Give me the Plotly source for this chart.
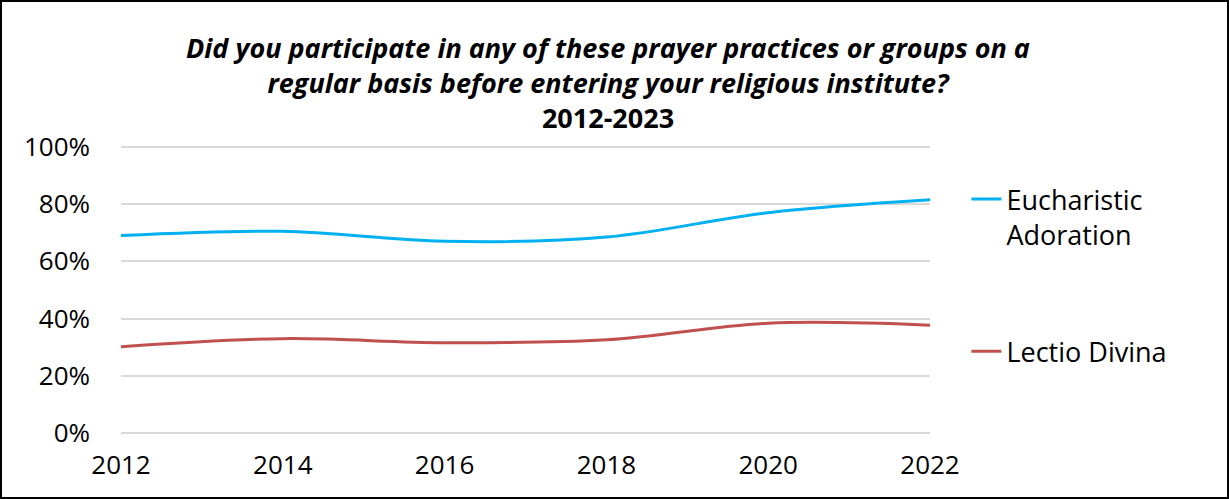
import plotly.graph_objects as go

years = [2012, 2014, 2016, 2018, 2020, 2022]
eucharistic = [0.69, 0.705, 0.67, 0.685, 0.77, 0.815]
lectio = [0.302, 0.33, 0.316, 0.326, 0.384, 0.377]
series_names = ["Eucharistic<br>Adoration", "Lectio Divina"]
colors = ["#00B0F0", "#C0504D"]
y_ticks = [0, 0.2, 0.4, 0.6, 0.8, 1.0]
y_labels = ["0%", "20%", "40%", "60%", "80%", "100%"]

FONT = "Open Sans, sans-serif"
W, H = 1229, 499
YPAD = 0.01
ML = 121
MR = W - 930
MT = 147 - 3
MB = H - 433 - 3

fig = go.Figure()
for i, (name, vals) in enumerate(zip(series_names, [eucharistic, lectio])):
    fig.add_trace(go.Scatter(
        x=years, y=vals, mode="lines", name=name,
        line=dict(color=colors[i], width=3, shape="spline", smoothing=1),
        legendgroup=f"g{i}",
    ))

pw = W - ML - MR
ph = H - MT - MB
fig.add_shape(type="rect", xref="paper", yref="paper",
              x0=-(ML - 1) / pw, x1=1 + (MR - 1) / pw,
              y0=-(MB - 1) / ph, y1=1 + (MT - 1) / ph,
              line=dict(color="black", width=2), fillcolor="rgba(0,0,0,0)", layer="above")

fig.update_layout(
    width=W, height=H,
    margin=dict(l=ML, r=MR, t=MT, b=MB),
    paper_bgcolor="white", plot_bgcolor="white",
    font=dict(family=FONT, size=26, color="black"),
    title=dict(
        text="<b><i>Did you participate in any of these prayer practices or groups on a<br>regular basis before entering your religious institute?</i><br>2012-2023</b>",
        x=0.4947, xanchor="center", xref="container",
        y=1 - 58 / H, yanchor="middle", yref="container",
        font=dict(family=FONT, size=27, color="black"),
    ),
    xaxis=dict(range=[2012, 2022], tickvals=years, ticktext=[str(y) for y in years],
               showgrid=False, zeroline=False, showline=False, ticks="",
               ticklabelstandoff=11, tickfont=dict(size=26)),
    yaxis=dict(range=[-YPAD, 1 + YPAD], tickvals=y_ticks, ticktext=y_labels,
               showgrid=True, gridcolor="#D9D9D9", gridwidth=1.6,
               zeroline=False, showline=False, ticks="", ticklabelstandoff=30,
               tickfont=dict(size=26)),
    legend=dict(x=1.045, xanchor="left", y=0.894, yanchor="top",
                font=dict(size=27), valign="top",
                traceorder="grouped", tracegroupgap=79, bgcolor="rgba(0,0,0,0)"),
    showlegend=True,
)

fig.write_html("out.html", config={"displayModeBar": False},
               post_script="document.body.style.margin='0px';")
